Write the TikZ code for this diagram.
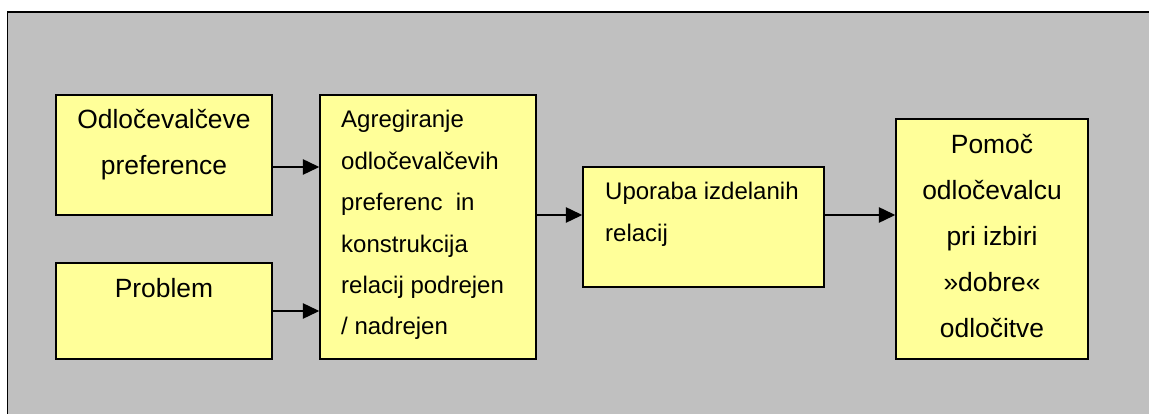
\documentclass[tikz,border=0pt]{standalone}
\usepackage{fontspec}
\setmainfont{Liberation Sans}
\usetikzlibrary{calc,arrows.meta}
\definecolor{panelgray}{HTML}{C0C0C0}
\definecolor{boxyellow}{HTML}{FFFF99}
\newcommand{\bigtext}{\fontsize{26.4}{46}\selectfont}
\newcommand{\smalltext}{\fontsize{24}{41.4}\selectfont}
\begin{document}
\begin{tikzpicture}[x=1pt,y=-1pt,
  stepbox/.style={draw=black,fill=boxyellow,line width=1.5pt,inner sep=0pt,rectangle},
  ctext/.style={inner sep=0pt,anchor=base},
  ltext/.style={inner sep=0pt,anchor=base west},
  flow/.style={draw=black,line width=1.4pt,-{Triangle[length=16.5pt,width=15.5pt]}}]
  \useasboundingbox (0,0) rectangle (1149,414);
  % background panel, open towards the right and bottom
  \fill[panelgray] (7.5,12) rectangle (1149,414);
  \draw[line width=1.5pt] (7.5,414) -- (7.5,12) -- (1149,12);

  % boxes
  \node[stepbox,minimum width=216pt,minimum height=120pt] (pref) at (164,155) {};
  \node[stepbox,minimum width=216pt,minimum height=96pt] (prob) at (164,311) {};
  \node[stepbox,minimum width=216pt,minimum height=264pt] (agg) at (428,227) {};
  \node[stepbox,minimum width=241pt,minimum height=120pt] (upo) at (703.5,227) {};
  \node[stepbox,minimum width=192pt,minimum height=240pt] (help) at (992,239) {};

  % box texts
  \node[ctext] (preft) at (164,129) {\parbox[t]{210pt}{\centering\bigtext Odločevalčeve\\preference}};
  \node[ctext] (probt) at (164,298) {\parbox[t]{210pt}{\centering\bigtext Problem}};
  \node[ltext] (aggt) at (341,128) {\parbox[t]{200pt}{\raggedright\smalltext Agregiranje\\odločevalčevih\\preferenc~ in\\konstrukcija\\relacij podrejen\\/ nadrejen}};
  \node[ltext] (upot) at (605,200) {\parbox[t]{215pt}{\raggedright\smalltext Uporaba izdelanih\\relacij}};
  \node[ctext] (helpt) at (992,154) {\parbox[t]{186pt}{\centering\bigtext Pomoč\\odločevalcu\\pri izbiri\\»dobre«\\odločitve}};

  % connectors
  \coordinate (a1) at ($(pref.east)+(0,12)$);
  \draw[flow] (a1) -- (a1 -| agg.west);
  \draw[flow] (prob.east) -- (prob.east -| agg.west);
  \coordinate (a3) at ($(agg.east)+(0,-12)$);
  \draw[flow] (a3) -- (a3 -| upo.west);
  \coordinate (a4) at ($(upo.east)+(0,-12)$);
  \draw[flow] (a4) -- (a4 -| help.west);
\end{tikzpicture}
\end{document}
